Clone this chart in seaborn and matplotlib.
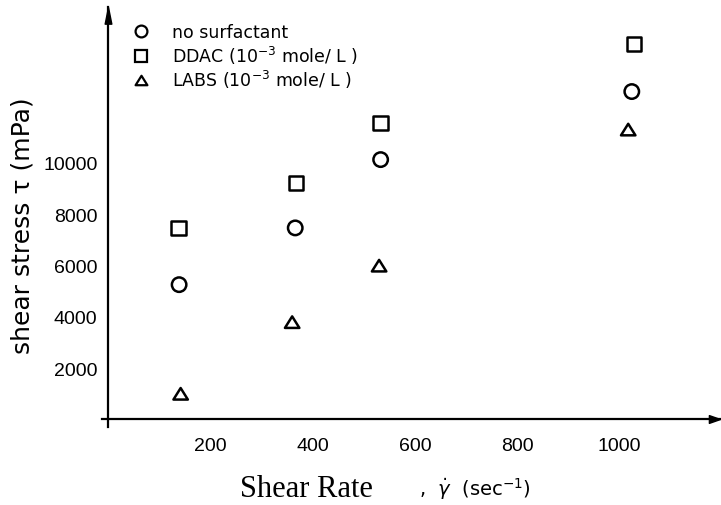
import matplotlib
matplotlib.use("Agg")
import matplotlib.pyplot as plt
from matplotlib.lines import Line2D
from matplotlib.path import Path
import pandas as pd
import seaborn as sns

# Shear stress (mPa) against shear rate (1/s) for three solutions
series_names = ["no surfactant",
                r"DDAC (10$^{-3}$ mole/ L )",
                r"LABS (10$^{-3}$ mole/ L )"]
rate_plain = [139, 366, 533, 1024]
stress_plain = [5250, 7460, 10120, 12770]
rate_ddac = [138, 368, 533, 1028]
stress_ddac = [7450, 9200, 11550, 14620]
rate_labs = [142, 360, 530, 1017]
stress_labs = [1000, 3790, 5990, 11290]
x_ticks = [200, 400, 600, 800, 1000]
y_ticks = [2000, 4000, 6000, 8000, 10000]

sns.set_style("white")
plt.rcParams["font.family"] = ["DejaVu Sans"]
plt.rcParams["mathtext.fontset"] = "dejavusans"
for key in ("text.color", "axes.labelcolor", "xtick.color", "ytick.color",
            "axes.edgecolor"):
    plt.rcParams[key] = "black"

tri = Path([(0, 0.8), (-1, -0.8), (1, -0.8), (0, 0)],
           [Path.MOVETO, Path.LINETO, Path.LINETO, Path.CLOSEPOLY])
marker_map = {series_names[0]: "o", series_names[1]: "s", series_names[2]: tri}

df = pd.concat([
    pd.DataFrame({"rate": rate_plain, "stress": stress_plain, "series": series_names[0]}),
    pd.DataFrame({"rate": rate_ddac, "stress": stress_ddac, "series": series_names[1]}),
    pd.DataFrame({"rate": rate_labs, "stress": stress_labs, "series": series_names[2]}),
], ignore_index=True)

fig = plt.figure(figsize=(7.21, 5.06), dpi=100)
ax = fig.add_axes([0.1413, 0.1538, 0.857, 0.8304])

for name in series_names:
    sub = df[df["series"] == name]
    sns.scatterplot(data=sub, x="rate", y="stress", marker=marker_map[name],
                    s=108, facecolors="none", edgecolor="black",
                    linewidth=1.8, ax=ax, legend=False, zorder=3)

ax.set_xlim(-12, 1196)
ax.set_ylim(-300, 16063)

# axes drawn as two crossing lines with arrowheads
for side in ("top", "right"):
    ax.spines[side].set_visible(False)
for side in ("left", "bottom"):
    ax.spines[side].set_position(("data", 0))
    ax.spines[side].set_linewidth(1.6)
    ax.spines[side].set_color("black")

up_arrow = Path([(0, 0), (-0.2, -1), (0.2, -1), (0, 0)],
                [Path.MOVETO, Path.LINETO, Path.LINETO, Path.CLOSEPOLY])
right_arrow = Path([(0, 0), (-1, 0.35), (-1, -0.35), (0, 0)],
                   [Path.MOVETO, Path.LINETO, Path.LINETO, Path.CLOSEPOLY])
ax.plot([0], [1], marker=up_arrow, markersize=24, color="black",
        transform=ax.get_xaxis_transform(), clip_on=False)
ax.plot([1], [0], marker=right_arrow, markersize=16, color="black",
        transform=ax.get_yaxis_transform(), clip_on=False)

ax.set_xticks(x_ticks)
ax.set_xticklabels([str(v) for v in x_ticks])
ax.set_yticks(y_ticks)
ax.set_yticklabels([str(v) for v in y_ticks])
ax.tick_params(axis="x", direction="out", length=5.8, width=1.3, pad=6.5,
               labelsize=14, colors="black")
ax.tick_params(axis="y", direction="out", length=6.5, width=1.3, pad=1,
               labelsize=14, colors="black")
for lab in ax.get_xticklabels() + ax.get_yticklabels():
    lab.set_family("Liberation Sans")

ax.set_xlabel("")
ax.set_ylabel("")
fig.text(23 / 721, 1 - 226 / 506, "shear stress τ (mPa)", rotation=90,
         ha="center", va="center", fontsize=18, color="black")
fig.text(306 / 721, 1 - 490 / 506, "Shear Rate", family="Liberation Serif",
         fontsize=22, ha="center", va="center", color="black")
fig.text(475 / 721, 1 - 489 / 506, r",  $\dot{\gamma}$  (sec$^{-1}$)",
         fontsize=14, ha="center", va="center", color="black")

handles = [Line2D([], [], linestyle="none", marker=marker_map[n], markersize=8.5,
                  markerfacecolor="none", markeredgecolor="black",
                  markeredgewidth=1.6) for n in series_names]
leg = ax.legend(handles, series_names, loc="upper left",
                bbox_to_anchor=(136 / 721, 1 - 24 / 506),
                bbox_transform=fig.transFigure, frameon=False, fontsize=12.5,
                handlelength=0.6, handletextpad=1.5, borderpad=0,
                borderaxespad=0, labelspacing=0.15)
for t in leg.get_texts():
    t.set_color("black")

fig.savefig("out.png", dpi=100)
